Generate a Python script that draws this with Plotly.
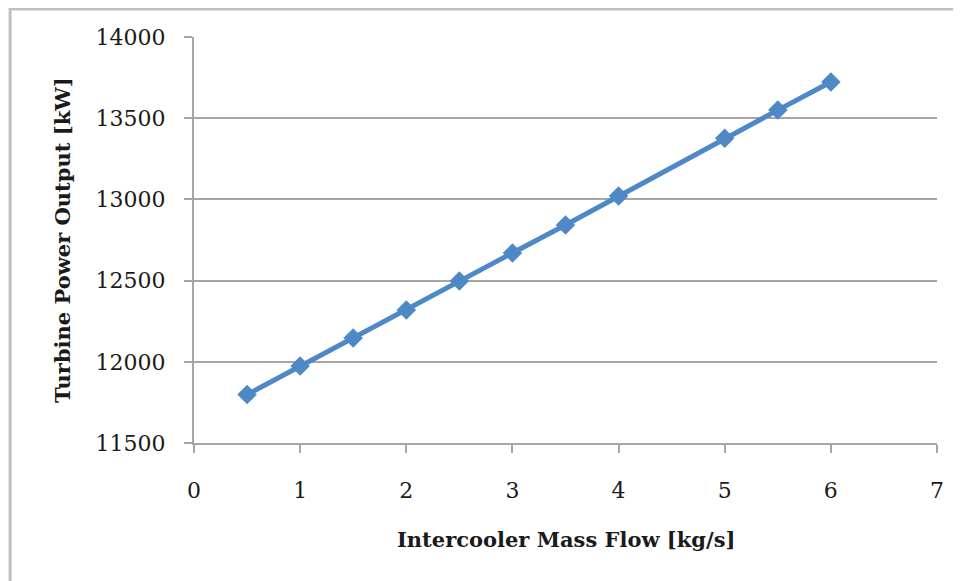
import plotly.graph_objects as go

# intercooler mass flow vs turbine power output
mass_flow = [0.5, 1, 1.5, 2, 2.5, 3, 3.5, 4, 5, 5.5, 6]
power_kw = [11798, 11974, 12146, 12319, 12498, 12670, 12842, 13021, 13376, 13550, 13723]

x_ticks = [0, 1, 2, 3, 4, 5, 6, 7]
y_ticks = [11500, 12000, 12500, 13000, 13500, 14000]
y_labels = ['11500', '12000', '12500', '13000', '13500', '14000']

font_family = 'DejaVu Serif'
grid_col = '#A6A6A6'
series_col = '#4F88C6'

# the page body has an 8px margin, so the figure is sized to fill the rest of the window
trace = go.Scatter(
    x=mass_flow,
    y=power_kw,
    mode='lines+markers',
    line=dict(color=series_col, width=5),
    marker=dict(symbol='diamond', size=15, color=series_col),
    showlegend=False
)

layout = go.Layout(
    width=953,
    height=573,
    margin=dict(l=186, r=24, t=29, b=138),
    plot_bgcolor='white',
    paper_bgcolor='white',
    font=dict(family=font_family, size=22, color='#1a1a1a'),
    xaxis=dict(
        range=[0, 7],
        tickvals=x_ticks,
        showgrid=False,
        showline=True,
        linecolor=grid_col,
        linewidth=2,
        ticks='outside',
        ticklen=8,
        tickwidth=2,
        tickcolor=grid_col,
        ticklabelstandoff=19,
        zeroline=False
    ),
    yaxis=dict(
        range=[11500, 14000],
        tickvals=y_ticks,
        ticktext=y_labels,
        showgrid=True,
        gridcolor=grid_col,
        gridwidth=2,
        showline=True,
        linecolor=grid_col,
        linewidth=2,
        ticks='outside',
        ticklen=8,
        tickwidth=2,
        tickcolor=grid_col,
        ticklabelstandoff=14,
        zeroline=False
    ),
    annotations=[
        dict(text='<b>Intercooler Mass Flow [kg/s]</b>', xref='paper', yref='paper',
             x=0.5, y=-0.2365, xanchor='center', yanchor='middle', showarrow=False,
             font=dict(size=21)),
        dict(text='<b>Turbine Power Output [kW]</b>', xref='paper', yref='paper',
             x=-0.1775, y=0.5, xanchor='center', yanchor='middle', showarrow=False,
             textangle=-90, font=dict(size=21)),
    ],
    shapes=[
        dict(type='rect', xref='paper', yref='paper', x0=-0.2475, x1=1.2, y0=-0.5, y1=1.069,
             line=dict(color='#BFBFBF', width=3), fillcolor='rgba(0,0,0,0)', layer='below')
    ]
)

fig = go.Figure(data=[trace], layout=layout)
fig.write_html('out.html')
